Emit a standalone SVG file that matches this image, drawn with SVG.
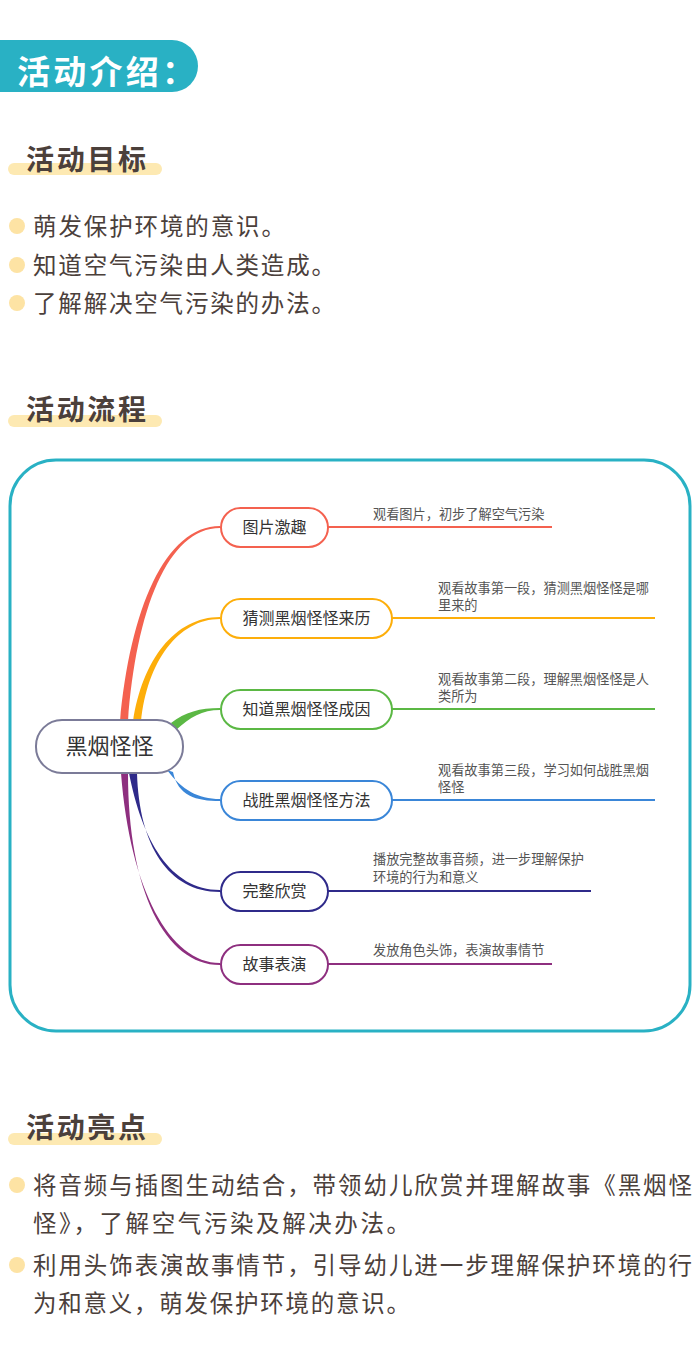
<svg xmlns="http://www.w3.org/2000/svg" width="700" height="1356" viewBox="0 0 700 1356">
<style>
.ttl{font-family:"Noto Sans CJK SC","Noto Sans",sans-serif;font-weight:bold;font-size:28px;fill:#4b403b}
.bar{fill:#fde9b2}
.dot{fill:#fde3a4}
.body{font-family:"Noto Sans CJK SC","Noto Sans",sans-serif;font-size:23.5px;fill:#4b403b}
.node{fill:#fff;stroke-width:2}
.nt{font-family:"Noto Sans CJK SC","Microsoft YaHei",sans-serif;font-size:16px;fill:#333;text-anchor:middle}
.dt{font-family:"Noto Sans CJK SC","Microsoft YaHei",sans-serif;font-size:13.2px;fill:#555}
.ln{fill:none;stroke-width:2}
</style>
<rect width="700" height="1356" fill="#fff"/>
<g id="header">
<path d="M0,40 H172 A26,26 0 0 1 172,92 H0 Z" fill="#29b1c4"/>
<text x="17" y="84" font-family="'Noto Sans CJK SC',sans-serif" font-weight="bold" font-size="33" fill="#fff" textLength="178" lengthAdjust="spacing">活动介绍：</text>
</g>
<g id="sec-goal">
<rect class="bar" x="8" y="163" width="154" height="12" rx="6"/>
<text class="ttl" x="26" y="170" textLength="120" lengthAdjust="spacing">活动目标</text>
<circle class="dot" cx="17" cy="226" r="8"/>
<circle class="dot" cx="17" cy="265" r="8"/>
<circle class="dot" cx="17" cy="303" r="8"/>
<text class="body" x="33" y="235" textLength="252" lengthAdjust="spacing">萌发保护环境的意识。</text>
<text class="body" x="33" y="274" textLength="302" lengthAdjust="spacing">知道空气污染由人类造成。</text>
<text class="body" x="33" y="312" textLength="302" lengthAdjust="spacing">了解解决空气污染的办法。</text>
</g>
<g id="sec-flow">
<rect class="bar" x="8" y="415" width="154" height="12" rx="6"/>
<text class="ttl" x="26" y="420" textLength="120" lengthAdjust="spacing">活动流程</text>
<rect x="10" y="460" width="680" height="571" rx="46" fill="#fff" stroke="#29b1c4" stroke-width="3"/>
</g>
<g id="connectors">
<path d="M120,722 C130,610 165,526 220,526 L220,528 C168,528 136,610 128,722 Z" fill="#f4614f"/>
<path d="M133,722 C142,660 175,617 220,617 L220,619 C178,619 147,662 141,722 Z" fill="#fdae0a"/>
<path d="M171,723 C185,712 200,708 220,708 L220,710 C202,710 190,717 176,730 Z" fill="#5bb844"/>
<path d="M167,770 C182,790 198,799 220,799 L220,801 C196,801 178,796 173,772 Z" fill="#3a86d8"/>
<path d="M129,773 C142,840 170,890 220,890 L220,892 C168,892 139,845 137,773 Z" fill="#2f2a8a"/>
<path d="M121,773 C130,890 170,963 220,963 L220,965 C165,965 128,890 128,773 Z" fill="#8e2f7f"/>
<line class="ln" x1="328" y1="527" x2="552" y2="527" stroke="#f4614f"/>
<line class="ln" x1="392" y1="618" x2="655" y2="618" stroke="#fdae0a"/>
<line class="ln" x1="392" y1="709" x2="655" y2="709" stroke="#5bb844"/>
<line class="ln" x1="392" y1="800" x2="655" y2="800" stroke="#3a86d8"/>
<line class="ln" x1="328" y1="891" x2="591" y2="891" stroke="#2f2a8a"/>
<line class="ln" x1="328" y1="964" x2="552" y2="964" stroke="#8e2f7f"/>
</g>
<g id="root">
<rect class="node" x="36" y="720" width="147" height="53" rx="26" stroke="#7b7b98"/>
<text x="109.5" y="754" font-family="'Noto Sans CJK SC','Microsoft YaHei',sans-serif" font-size="22" fill="#333" text-anchor="middle">黑烟怪怪</text>
</g>
<g id="n1">
<rect class="node" x="221" y="508" width="107" height="39" rx="19.5" stroke="#f4614f"/>
<text class="nt" x="274.5" y="533">图片激趣</text>
<text class="dt" x="373" y="519">观看图片，初步了解空气污染</text>
</g>
<g id="n2">
<rect class="node" x="221" y="599" width="171" height="39" rx="19.5" stroke="#fdae0a"/>
<text class="nt" x="306.5" y="624">猜测黑烟怪怪来历</text>
<text class="dt" x="438" y="593">观看故事第一段，猜测黑烟怪怪是哪</text>
<text class="dt" x="438" y="610">里来的</text>
</g>
<g id="n3">
<rect class="node" x="221" y="690" width="171" height="39" rx="19.5" stroke="#5bb844"/>
<text class="nt" x="306.5" y="715">知道黑烟怪怪成因</text>
<text class="dt" x="438" y="684">观看故事第二段，理解黑烟怪怪是人</text>
<text class="dt" x="438" y="701">类所为</text>
</g>
<g id="n4">
<rect class="node" x="221" y="781" width="171" height="39" rx="19.5" stroke="#3a86d8"/>
<text class="nt" x="306.5" y="806">战胜黑烟怪怪方法</text>
<text class="dt" x="438" y="775">观看故事第三段，学习如何战胜黑烟</text>
<text class="dt" x="438" y="792">怪怪</text>
</g>
<g id="n5">
<rect class="node" x="221" y="872" width="107" height="39" rx="19.5" stroke="#2f2a8a"/>
<text class="nt" x="274.5" y="897">完整欣赏</text>
<text class="dt" x="373" y="864">播放完整故事音频，进一步理解保护</text>
<text class="dt" x="373" y="882">环境的行为和意义</text>
</g>
<g id="n6">
<rect class="node" x="221" y="945" width="107" height="39" rx="19.5" stroke="#8e2f7f"/>
<text class="nt" x="274.5" y="970">故事表演</text>
<text class="dt" x="373" y="955">发放角色头饰，表演故事情节</text>
</g>
<g id="sec-highlight">
<rect class="bar" x="8" y="1133" width="154" height="12" rx="6"/>
<text class="ttl" x="26" y="1138" textLength="120" lengthAdjust="spacing">活动亮点</text>
<circle class="dot" cx="17" cy="1185" r="8"/>
<circle class="dot" cx="17" cy="1265" r="8"/>
<text class="body" x="33" y="1194" textLength="659" lengthAdjust="spacing">将音频与插图生动结合，带领幼儿欣赏并理解故事《黑烟怪</text>
<text class="body" x="33" y="1232" textLength="377" lengthAdjust="spacing">怪》，了解空气污染及解决办法。</text>
<text class="body" x="33" y="1274" textLength="659" lengthAdjust="spacing">利用头饰表演故事情节，引导幼儿进一步理解保护环境的行</text>
<text class="body" x="33" y="1312" textLength="377" lengthAdjust="spacing">为和意义，萌发保护环境的意识。</text>
</g>
</svg>
